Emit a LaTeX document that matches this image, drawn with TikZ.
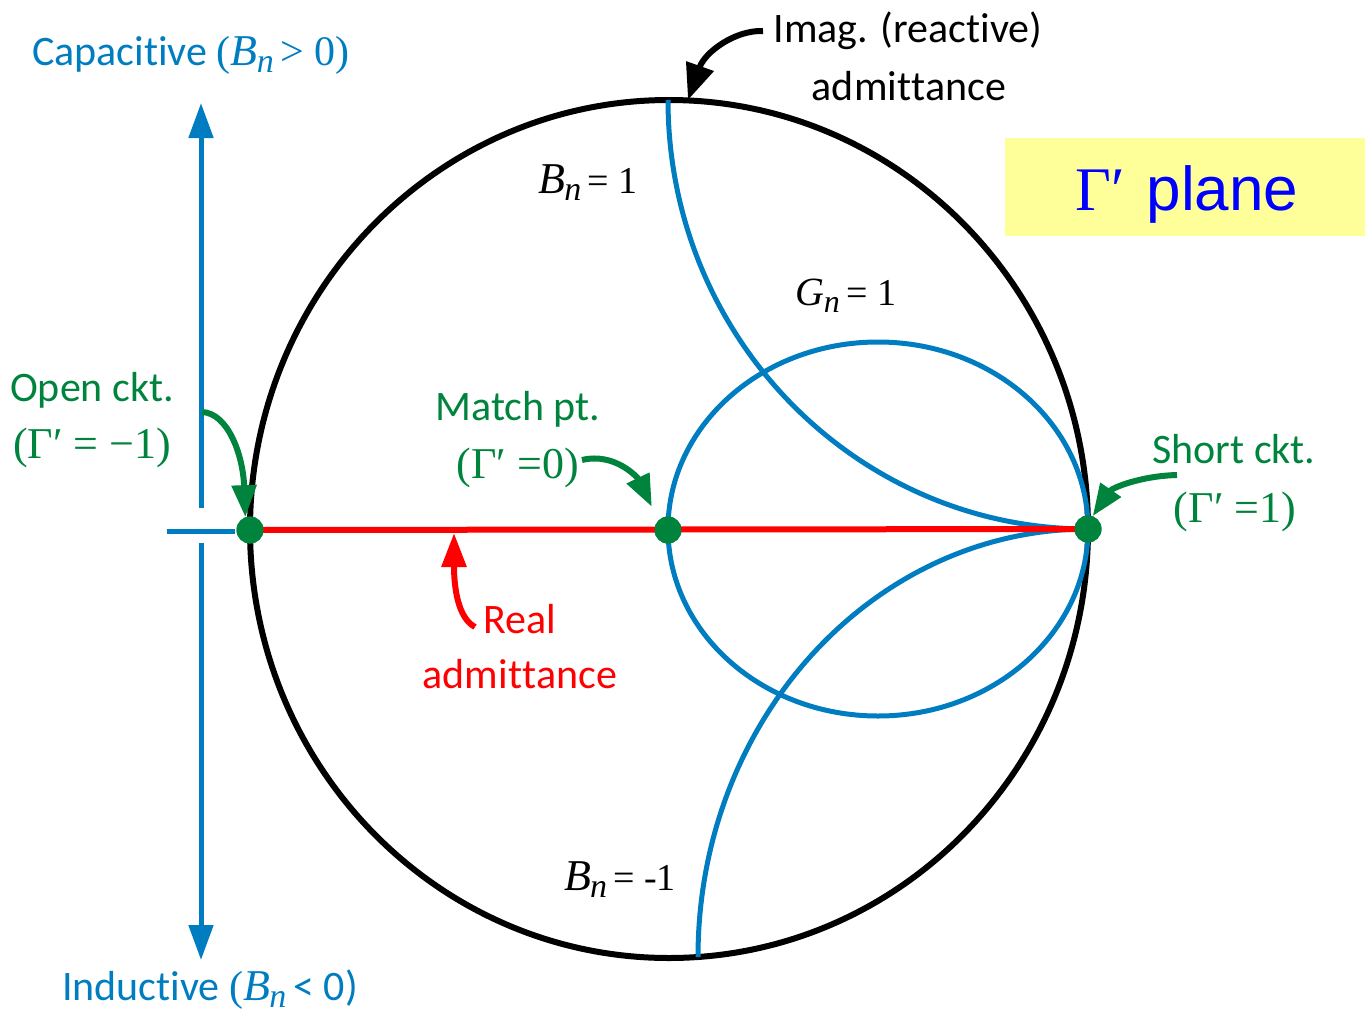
\documentclass[tikz,border=0pt]{standalone}
\usepackage{fontspec}
\setmainfont{Carlito}[Ligatures={NoCommon,NoContextual}]
\newfontfamily\tms{Liberation Serif}
\newfontfamily\arl{Liberation Sans}
\usetikzlibrary{arrows.meta}
\definecolor{cblue}{RGB}{0,125,192}
\definecolor{cgreen}{RGB}{0,132,61}
\definecolor{cred}{RGB}{255,0,0}
\definecolor{pblue}{RGB}{0,0,255}
\definecolor{pyellow}{RGB}{255,255,153}
\newcommand\sz[1]{\fontsize{#1}{#1}\selectfont}
\newcommand\nl{\kern0pt}
\newcommand\BnSym{{\tms\itshape\sz{44}B\kern-0.02em\raisebox{-7pt}{\sz{34}n}}}
\newcommand\GnSym{{\tms\itshape\sz{40}G\kern-0.02em\raisebox{-7pt}{\sz{32}n}}}
\begin{document}
\begin{tikzpicture}[x=1pt,y=-1pt,
  blk/.style={draw=black,line width=6pt},
  bl/.style={draw=cblue,line width=5pt},
  rd/.style={draw=cred,line width=6pt},
  lbl/.style={anchor=base,inner sep=0pt,font=\sz{42}},
  tlbl/.style={anchor=base,inner sep=0pt,font=\tms\sz{38}},
  gdot/.style={circle,fill=cgreen,minimum size=27pt,inner sep=0pt},
  garrow/.style={draw=cgreen,line width=6pt,-{Triangle[length=32pt,width=24pt]}},
  axarrow/.style={bl,-{Triangle[length=35pt,width=24pt]}}]
\useasboundingbox (0,0) rectangle (1365,1015);

% main circles and arcs
\draw[blk] (669,529) ellipse [x radius=419, y radius=429];
\draw[bl] (878,529) ellipse [x radius=210, y radius=187];
\draw[bl] (668,100) arc[start angle=180, end angle=90, x radius=420, y radius=429];
\draw[bl] (698,957) arc[start angle=180, end angle=270, x radius=390, y radius=428];

% dots
\node[gdot] (oc) at (250,530) {};
\node[gdot] (mp) at (668,530) {};
\node[gdot] (sc) at (1088,529) {};
\draw[rd] (oc.center) -- (sc.center);
\node[gdot] at (oc) {};
\node[gdot] at (mp) {};
\node[gdot] at (sc) {};

% left axis
\coordinate (capTip) at (201,103);
\coordinate (gapTop) at (201,508);
\coordinate (gapBot) at (201,543);
\coordinate (indTip) at (201,960);
\coordinate (tickL) at (167,531);
\coordinate (tickR) at (235,531);
\draw[axarrow] (gapTop) -- (capTip);
\draw[axarrow] (gapBot) -- (indTip);
\draw[bl] (tickL) -- (tickR);

% labels
\node[lbl,text=cblue] (cap) at (191,65) {Capaci\nl t\nl ive {\tms(}\BnSym{\tms\sz{42}\,> 0)}};
\node[lbl,text=cblue] (ind) at (210,1000) {Induc\nl t\nl ive {\tms(}\BnSym\,< 0)};

\node[lbl] (imag1) at (908,42) {Imag. (reac\nl t\nl ive)};
\node[lbl] (imag2) at (909,100) {admi\nl t\nl t\nl ance};

\fill[pyellow] (1005,138) rectangle (1365,236);
\node[anchor=base west,inner sep=0pt,text=pblue] (plane) at (1075,210) {{\tms\sz{62}Γ′}\hspace{22pt}{\arl\sz{62}plane}};

\node[tlbl] (bn1) at (588,193) {\BnSym\,= 1};
\node[tlbl] (gn1) at (846,305) {\GnSym\,= 1};
\node[tlbl] (bnm1) at (620,890) {\BnSym\,= -1};

\node[lbl,text=cgreen] (open1) at (92,401) {Open ckt.};
\node[anchor=base,inner sep=0pt,font=\tms\sz{44},text=cgreen] (open2) at (92,458) {(Γ′ = −1)};
\node[lbl,text=cgreen] (match1) at (518,420) {Match pt.};
\node[anchor=base,inner sep=0pt,font=\tms\sz{44},text=cgreen] (match2) at (518,478) {(Γ′ =0)};
\node[lbl,text=cgreen] (short1) at (1234,463) {Short ckt.};
\node[anchor=base,inner sep=0pt,font=\tms\sz{44},text=cgreen] (short2) at (1235,522) {(Γ′ =1)};

\node[lbl,text=cred] (real1) at (520,633) {Real};
\node[lbl,text=cred] (real2) at (520,688) {admi\nl t\nl t\nl ance};

% connectors
\coordinate (itail) at (763,31);
\coordinate (itip) at (688,100);
\draw[blk,-{Triangle[length=36pt,width=28pt]}] (itail) .. controls (735,30) and (705,52) .. (itip);

\coordinate (otail) at (202,412);
\draw[garrow] (otail) .. controls (228,413) and (243,455) .. (oc.110);

\coordinate (mtail) at (582,460);
\draw[garrow,shorten >=15pt] (mtail) .. controls (615,452) and (638,478) .. (mp.135);

\coordinate (stail) at (1177,475);
\draw[garrow] (stail) .. controls (1140,476) and (1112,488) .. (sc.70);

\coordinate (rtail) at (475,627);
\coordinate (rtip) at (454,533);
\draw[rd,-{Triangle[length=34pt,width=24pt]}] (rtail) .. controls (458,618) and (454,588) .. (rtip);
\end{tikzpicture}
\end{document}
